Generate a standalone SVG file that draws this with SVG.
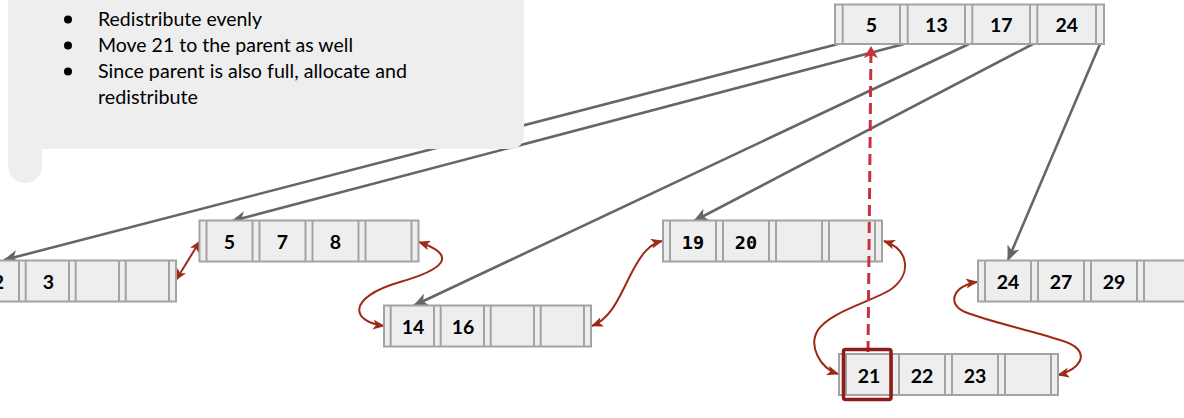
<svg xmlns="http://www.w3.org/2000/svg" xmlns:xlink="http://www.w3.org/1999/xlink" width="1184" height="418" viewBox="0 0 1184 418">
<style>
.cell{fill:#eeeeee;stroke:#a3a3a3;stroke-width:2}
.div{stroke:#a3a3a3;stroke-width:2}
.k{font-family:Lato,"Open Sans","Liberation Sans",sans-serif;font-weight:bold;font-size:19.5px;fill:#000;text-anchor:middle}
.m{font-family:"DejaVu Sans Mono","Liberation Mono",monospace;font-weight:bold;font-size:18.5px;fill:#000;text-anchor:middle}
.b{font-family:Lato,"Open Sans","Liberation Sans",sans-serif;font-size:19.5px;fill:#000}
.ptr{fill:none;stroke:#666666;stroke-width:2.6}
.sib{fill:none;stroke:#9c2a14;stroke-width:2}
.up{fill:none;stroke:#c8313e;stroke-width:3;stroke-dasharray:11 6}
</style>
<defs>
<marker id="ag" viewBox="0 0 15 13" refX="14" refY="6.5" markerWidth="15" markerHeight="13" markerUnits="userSpaceOnUse" orient="auto">
<path d="M0,0 L15,6.5 L0,13 L4,6.5 z" fill="#666666"/>
</marker>
<marker id="ar" viewBox="0 0 12 10" refX="11" refY="5" markerWidth="12" markerHeight="10" markerUnits="userSpaceOnUse" orient="auto-start-reverse">
<path d="M0,0 L12,5 L0,10 L3,5 z" fill="#9c2a14"/>
</marker>
<marker id="au" viewBox="0 0 12 14" refX="11" refY="7" markerWidth="12" markerHeight="14" markerUnits="userSpaceOnUse" orient="auto">
<path d="M0,0 L12,7 L0,14 L3,7 z" fill="#c8313e"/>
</marker>
<g id="n219">
<rect class="cell" x="0" y="0" width="219" height="41"/>
<path class="div" d="M7 0V41M53 0V41M60 0V41M106 0V41M113 0V41M159 0V41M166 0V41M212 0V41"/>
</g>
<g id="n207">
<rect class="cell" x="0" y="0" width="207" height="41"/>
<path class="div" d="M6.7 0V41M50 0V41M56.7 0V41M100 0V41M106.7 0V41M150 0V41M156.7 0V41M200 0V41"/>
</g>
<g id="nroot">
<rect class="cell" x="0" y="0" width="269" height="39.5"/>
<path class="div" d="M7.7 0V39.5M65 0V39.5M72.7 0V39.5M130 0V39.5M137.3 0V39.5M195 0V39.5M202.3 0V39.5M261 0V39.5"/>
</g>
</defs>

<g id="connectors">
<path class="ptr" marker-end="url(#ag)" d="M838 44 L4 260"/>
<path class="ptr" marker-end="url(#ag)" d="M904 44 L232 221"/>
<path class="ptr" marker-end="url(#ag)" d="M969 44 L414 305.5"/>
<path class="ptr" marker-end="url(#ag)" d="M1033 44 L694 221"/>
<path class="ptr" marker-end="url(#ag)" d="M1100 44 L1008 260"/>
<path class="sib" marker-start="url(#ar)" marker-end="url(#ar)" d="M176 280 L200 241"/>
<path class="sib" marker-start="url(#ar)" marker-end="url(#ar)" d="M419 242 C460 256 442 270 400 282 C345 298 352 322 384 326"/>
<path class="sib" marker-start="url(#ar)" marker-end="url(#ar)" d="M592 326 C612 318 620 295 630 276 C642 252 650 244 662 241"/>
<path class="sib" marker-start="url(#ar)" marker-end="url(#ar)" d="M884 241 C910 250 912 275 890 290 C870 302 830 312 818 330 C808 346 820 368 838 374"/>
<path class="sib" marker-start="url(#ar)" marker-end="url(#ar)" d="M1058 375 C1080 370 1095 350 1060 340 C1030 330 990 322 965 312 C945 303 955 285 977 282"/>
</g>

<g id="note">
<path d="M8 -5 H524 V134 Q524 149 509 149 H42 V166 A17 17 0 0 1 8 166 Z" fill="#eeeeee"/>
<circle cx="68" cy="19.5" r="4" fill="#000"/>
<circle cx="68" cy="45.5" r="4" fill="#000"/>
<circle cx="68" cy="71.5" r="4" fill="#000"/>
<text class="b" x="98" y="26" textLength="164" lengthAdjust="spacingAndGlyphs">Redistribute evenly</text>
<text class="b" x="98" y="52" textLength="255" lengthAdjust="spacingAndGlyphs">Move 21 to the parent as well</text>
<text class="b" x="98" y="78" textLength="309" lengthAdjust="spacingAndGlyphs">Since parent is also full, allocate and</text>
<text class="b" x="98" y="104" textLength="100" lengthAdjust="spacingAndGlyphs">redistribute</text>
</g>

<g id="root">
<use xlink:href="#nroot" x="835" y="4.5"/>
<text class="k" x="871.4" y="31.7">5</text>
<text class="k" x="936.4" y="31.7">13</text>
<text class="k" x="1001.2" y="31.7">17</text>
<text class="k" x="1066.7" y="31.7">24</text>
</g>

<g id="leaf-2-3">
<use xlink:href="#n207" x="-31" y="260.5"/>
<text class="k" x="-1.5" y="289.2">2</text>
<text class="k" x="48.5" y="289.2">3</text>
</g>

<g id="leaf-5-7-8">
<use xlink:href="#n219" x="199.5" y="220.5"/>
<text class="k" x="229.5" y="249.2">5</text>
<text class="k" x="282.5" y="249.2">7</text>
<text class="k" x="335.5" y="249.2">8</text>
</g>

<g id="leaf-14-16">
<use xlink:href="#n207" x="384" y="305.5"/>
<text class="k" x="413" y="334.2">14</text>
<text class="k" x="463" y="334.2">16</text>
</g>

<g id="leaf-19-20">
<use xlink:href="#n219" x="663" y="220.5"/>
<text class="m" x="693" y="249.2">19</text>
<text class="m" x="746" y="249.2">20</text>
</g>

<g id="leaf-24-27-29">
<use xlink:href="#n219" x="978" y="260.5"/>
<text class="k" x="1008" y="289.2">24</text>
<text class="k" x="1061" y="289.2">27</text>
<text class="k" x="1114" y="289.2">29</text>
</g>

<g id="up-arrow">
<path class="up" marker-end="url(#au)" d="M868 352 L871 47"/>
</g>

<g id="leaf-21-22-23">
<use xlink:href="#n219" x="839" y="354"/>
<text class="k" x="869" y="382.7">21</text>
<text class="k" x="922" y="382.7">22</text>
<text class="k" x="975" y="382.7">23</text>
<rect x="843.5" y="349.5" width="47.5" height="50" rx="2" fill="none" stroke="#8e1b1b" stroke-width="3.5"/>
</g>
</svg>
